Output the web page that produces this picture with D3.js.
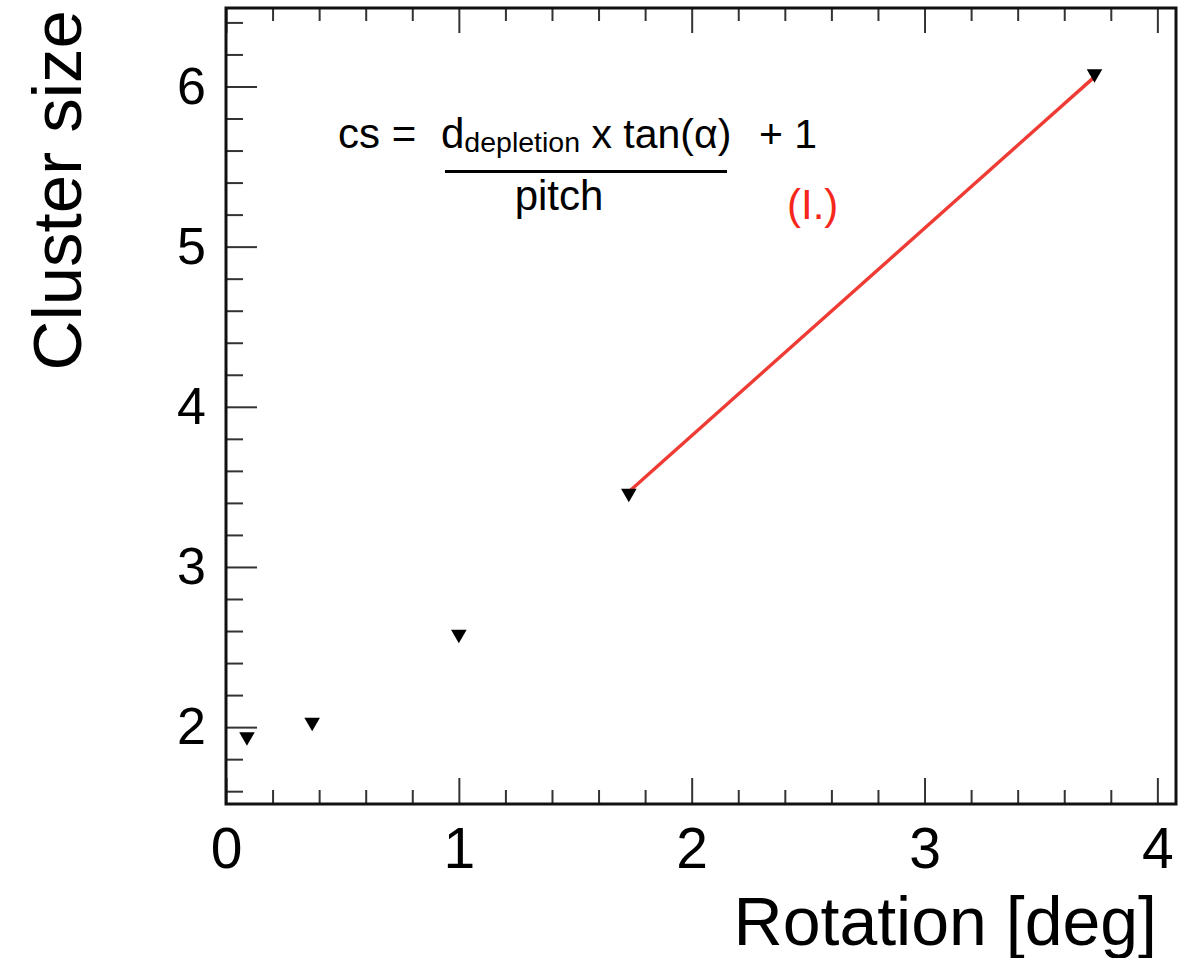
<!DOCTYPE html>
<html>
<head>
<meta charset="utf-8">
<script src="https://cdn.jsdelivr.net/npm/d3@7"></script>
<style>
  html, body { margin: 0; padding: 0; background: #fff; }
  svg { display: block; font-family: "Liberation Sans", Arial, Helvetica, sans-serif; }
</style>
</head>
<body>
<svg id="chart" width="1180" height="958"></svg>
<script>
// ---- data ----
const rotation = [0.09, 0.37, 1.0, 1.73, 3.73];     // deg
const clusterSize = [1.94, 2.03, 2.58, 3.46, 6.08];
const fitX = [1.73, 3.73];
const fitY = [3.47, 6.06];
const xTicks = [0, 1, 2, 3, 4];
const yTicks = [2, 3, 4, 5, 6];
const xTitle = "Rotation [deg]";
const yTitle = "Cluster size";

(function () {
// ---- layout ----
const svg = d3.select("#chart");
const pL = 226, pR = 1176, pT = 8, pB = 804;
const x = d3.scaleLinear().domain([0, 4.08]).range([pL, pR]);
const y = d3.scaleLinear().domain([1.52, 6.49]).range([pB, pT]);

const xMinor = d3.range(0, 4.0001, 0.2).filter(v => !xTicks.some(t => Math.abs(t - v) < 1e-6));
const yMinor = d3.range(1.6, 6.4001, 0.2).filter(v => !yTicks.some(t => Math.abs(t - v) < 1e-6));

const tickColor = "#333";

function drawAxis(g, axis) {
  g.call(axis);
  g.select(".domain").remove();
  g.selectAll(".tick line").attr("stroke", tickColor).attr("stroke-width", 2);
}
// left major
const gyL = svg.append("g").attr("transform", `translate(${pL},0)`);
drawAxis(gyL, d3.axisLeft(y).tickValues(yTicks).tickSize(-31).tickPadding(20).tickFormat(d3.format("d")));
gyL.selectAll("text").attr("font-size", 52).attr("fill", "#000").attr("font-family", "'Liberation Sans', Arial, sans-serif");
const gyLm = svg.append("g").attr("transform", `translate(${pL},0)`);
drawAxis(gyLm, d3.axisLeft(y).tickValues(yMinor).tickSize(-17).tickFormat(""));

// bottom major
const gxB = svg.append("g").attr("transform", `translate(0,${pB})`);
drawAxis(gxB, d3.axisBottom(x).tickValues(xTicks).tickSize(-26).tickPadding(24).tickFormat(d3.format("d")));
gxB.selectAll("text").attr("font-size", 57).attr("fill", "#000").attr("font-family", "'Liberation Sans', Arial, sans-serif");
const gxBm = svg.append("g").attr("transform", `translate(0,${pB})`);
drawAxis(gxBm, d3.axisBottom(x).tickValues(xMinor).tickSize(-14).tickFormat(""));

// top mirrored ticks
const gxT = svg.append("g").attr("transform", `translate(0,${pT})`);
drawAxis(gxT, d3.axisTop(x).tickValues(xTicks).tickSize(-25).tickFormat(""));
const gxTm = svg.append("g").attr("transform", `translate(0,${pT})`);
drawAxis(gxTm, d3.axisTop(x).tickValues(xMinor).tickSize(-13).tickFormat(""));

// frame
svg.append("rect")
  .attr("x", pL).attr("y", pT)
  .attr("width", pR - pL).attr("height", pB - pT)
  .attr("fill", "none").attr("stroke", "#111").attr("stroke-width", 3);

// fit line
svg.append("path")
  .datum(d3.zip(fitX, fitY))
  .attr("d", d3.line().x(d => x(d[0])).y(d => y(d[1])))
  .attr("stroke", "#ee3b33").attr("stroke-width", 3.4).attr("fill", "none");

// markers (down triangles)
const tri = d3.symbol().type(d3.symbolTriangle).size(105);
svg.append("g").selectAll("path")
  .data(d3.zip(rotation, clusterSize))
  .join("path")
  .attr("d", tri)
  .attr("transform", d => `translate(${x(d[0])},${y(d[1])}) rotate(180)`)
  .attr("fill", "#000");

// axis titles
svg.append("text")
  .attr("x", 1157).attr("y", 945)
  .attr("text-anchor", "end")
  .attr("font-size", 68).attr("fill", "#000")
  .text(xTitle);

svg.append("text")
  .attr("transform", "translate(81,10) rotate(-90)")
  .attr("text-anchor", "end")
  .attr("font-size", 69).attr("fill", "#000")
  .text(yTitle);

// formula annotation
const f = svg.append("g").attr("font-size", 41).attr("fill", "#000");
f.append("text").attr("x", 338).attr("y", 148).attr("font-size", 42).text("cs =");
const num = f.append("text").attr("x", 441).attr("y", 148);
num.append("tspan").attr("font-size", 42).text("d");
num.append("tspan").attr("font-size", 28.5).attr("dy", 4).text("depletion");
num.append("tspan").attr("dy", -4).text(" x tan(\u03B1)");
f.append("text").attr("x", 759).attr("y", 148).text("+ 1");
f.append("line")
  .attr("x1", 445).attr("x2", 727).attr("y1", 171.5).attr("y2", 171.5)
  .attr("stroke", "#000").attr("stroke-width", 3);
f.append("text").attr("x", 559).attr("y", 210).attr("text-anchor", "middle").attr("font-size", 42).text("pitch");
svg.append("text").attr("x", 787).attr("y", 219)
  .attr("font-size", 42).attr("fill", "#f5261a").text("(I.)");
})();
</script>
</body>
</html>
